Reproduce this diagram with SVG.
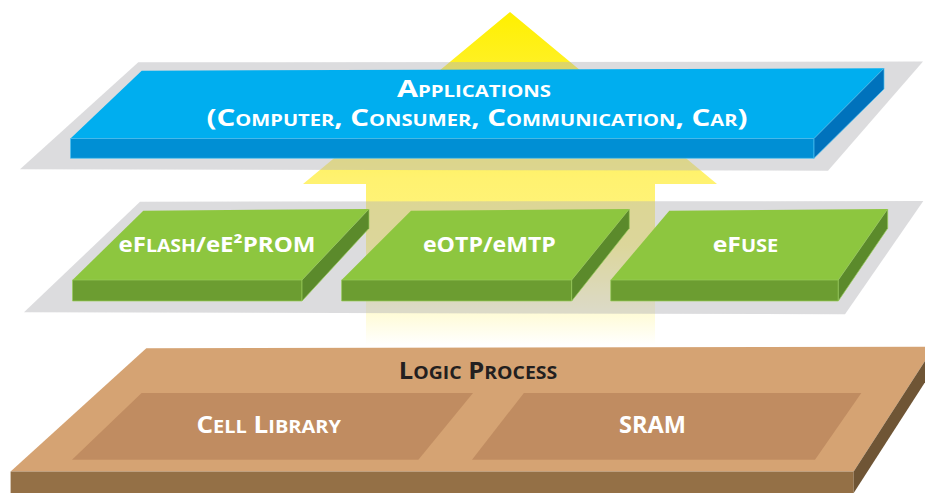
<svg xmlns="http://www.w3.org/2000/svg" width="925" height="493" viewBox="0 0 925 493">
<defs>
<linearGradient id="arrowGrad" gradientUnits="userSpaceOnUse" x1="0" y1="12" x2="0" y2="345">
<stop offset="0" stop-color="#FFF000"/>
<stop offset="0.5" stop-color="#FFF270"/>
<stop offset="0.7" stop-color="#FFF372" stop-opacity="0.9"/>
<stop offset="1" stop-color="#FFF372" stop-opacity="0"/>
</linearGradient>
</defs>
<style>
.plane{fill:#B4B5B8;fill-opacity:0.47}
.bTop{fill:#00AEEF}
.bFront{fill:#008FD4;stroke:#4CC0F0;stroke-width:0.7}
.bSide{fill:#0072BC;stroke:#4CC0F0;stroke-width:0.7}
.gTop{fill:#8DC63F}
.gFront{fill:#6C9D31;stroke:#9ACB5A;stroke-width:0.7}
.gSide{fill:#5B8A2B;stroke:#9ACB5A;stroke-width:0.7}
.brTop{fill:#D5A373}
.brIn{fill:#C08C61}
.brFront{fill:#947046}
.brSide{fill:#6F5535}
text{font-family:"Open Sans","Liberation Sans",sans-serif;font-weight:700;text-anchor:middle}
.w{fill:#FFFFFF}
.d{fill:#231F20}
</style>

<g id="connectors">
<path id="arrow" d="M510,12 L717,184 L655,184 L655,345 L366,345 L366,184 L303,184 Z" fill="url(#arrowGrad)"/>
</g>

<g id="layer-applications">
<polygon class="plane" points="138.3,62.3 923,61.5 828,170.7 20,169.3"/>
<polygon class="bTop" points="141.7,70.7 884,68.3 814,138.5 70.5,138.5"/>
<polygon class="bFront" points="70.5,138.5 814,138.5 814,158.3 70.5,158.3"/>
<polygon class="bSide" points="884,68.3 884,89 814,158.3 814,138.5"/>
<text class="w" x="474" y="96.7" font-size="24" textLength="154" lengthAdjust="spacingAndGlyphs">A<tspan font-size="16">PPLICATIONS</tspan></text>
<text class="w" x="477" y="126" font-size="23.5" textLength="541" lengthAdjust="spacingAndGlyphs">(C<tspan font-size="16">OMPUTER</tspan>, C<tspan font-size="16">ONSUMER</tspan>, C<tspan font-size="16">OMMUNICATION</tspan>, C<tspan font-size="16">AR</tspan>)</text>
</g>

<g id="layer-memory">
<polygon class="plane" points="140,201.7 923.3,201 845,314.3 24,312.3"/>
</g>

<g id="node-eflash">
<polygon class="gTop" points="143.3,210.7 369,209 302,280 72.5,280"/>
<polygon class="gFront" points="72.5,280 302,280 302,301 72.5,301"/>
<polygon class="gSide" points="369,209 369,228.3 302,301 302,280"/>
<text class="w" x="217" y="252.3" font-size="21" textLength="197" lengthAdjust="spacingAndGlyphs">eF<tspan font-size="17">LASH</tspan>/eE²PROM</text>
</g>

<g id="node-eotp">
<polygon class="gTop" points="411,210.7 629.3,209 571.7,280 341.6,280"/>
<polygon class="gFront" points="341.6,280 571.7,280 571.7,301 341.6,301"/>
<polygon class="gSide" points="629.3,209 629.3,228.3 571.7,301 571.7,280"/>
<text class="w" x="489.4" y="252.3" font-size="21" textLength="133" lengthAdjust="spacingAndGlyphs">eOTP/eMTP</text>
</g>

<g id="node-efuse">
<polygon class="gTop" points="669.3,210.7 887.7,209 838.3,280 610.7,280"/>
<polygon class="gFront" points="610.7,280 838.3,280 838.3,301 610.7,301"/>
<polygon class="gSide" points="887.7,209 887.7,228.3 838.3,301 838.3,280"/>
<text class="w" x="745.5" y="252.3" font-size="21" textLength="65.6" lengthAdjust="spacingAndGlyphs">eF<tspan font-size="17">USE</tspan></text>
</g>

<g id="node-logic">
<polygon class="brTop" points="146.3,348.3 934.2,346.7 853.7,471.5 10.6,471.5"/>
<polygon class="brFront" points="10.6,471.5 853.7,471.5 853.7,493 10.6,493"/>
<polygon class="brSide" points="934.2,346.7 934.2,368 853.7,493 853.7,471.5"/>
<text class="d" x="478" y="379" font-size="23" textLength="158.5" lengthAdjust="spacingAndGlyphs">L<tspan font-size="17.5">OGIC</tspan> P<tspan font-size="17.5">ROCESS</tspan></text>
</g>

<g id="node-cell-library">
<polygon class="brIn" points="141.6,392.9 473,392.9 418.4,459.8 72,459.8"/>
<text class="w" x="268.7" y="432.5" font-size="23.5" textLength="144.5" lengthAdjust="spacingAndGlyphs">C<tspan font-size="18">ELL</tspan> L<tspan font-size="18">IBRARY</tspan></text>
</g>

<g id="node-sram">
<polygon class="brIn" points="523.9,392.9 861.3,392.9 815,459.8 472,459.8"/>
<text class="w" x="652.5" y="432.7" font-size="24" textLength="67" lengthAdjust="spacingAndGlyphs">SRAM</text>
</g>
</svg>
